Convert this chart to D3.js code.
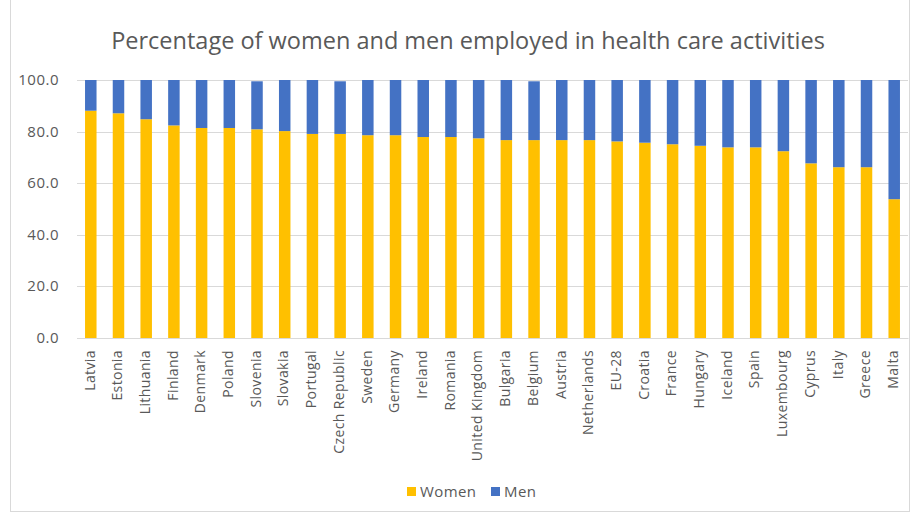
<!DOCTYPE html>
<html><head><meta charset="utf-8">
<script src="https://cdn.jsdelivr.net/npm/d3@7"></script>
<style>body{margin:0;background:#fff}svg{display:block}</style>
</head><body>
<script>
const categories = ["Latvia","Estonia","Lithuania","Finland","Denmark","Poland","Slovenia","Slovakia","Portugal","Czech Republic","Sweden","Germany","Ireland","Romania","United Kingdom","Bulgaria","Belgium","Austria","Netherlands","EU-28","Croatia","France","Hungary","Iceland","Spain","Luxembourg","Cyprus","Italy","Greece","Malta"];
const women = [88.1,87.1,84.8,82.4,81.4,81.4,80.9,80.2,79.1,79.1,78.6,78.6,77.9,77.9,77.4,76.7,76.7,76.7,76.7,76.2,75.7,75.1,74.5,73.9,73.9,72.4,67.7,66.2,66.2,53.8];
const men = [11.9,12.9,15.2,17.6,18.6,18.6,18.6,19.8,20.9,20.4,21.4,21.4,22.1,22.1,22.6,23.3,22.8,23.3,23.3,23.8,24.3,24.9,25.5,26.1,26.1,27.6,32.3,33.8,33.8,46.2];
const yTicks = [0,20,40,60,80,100];
const seriesNames = ["Women","Men"];
const colors = ["#FFC000","#4472C4"];

const W=912,H=515;
const svg=d3.select("body").append("svg").attr("width",W).attr("height",H);
const font="'Open Sans', 'Segoe UI', sans-serif";
svg.append("rect").attr("x",10.5).attr("y",-1).attr("width",899).attr("height",512.5).attr("fill","#fff").attr("stroke","#d9d9d9");

const x=d3.scaleBand().domain(categories).range([77,908]).paddingInner(0.585).paddingOuter(0.29);
const y=d3.scaleLinear().domain([0,100]).range([338,80]);

svg.append("text").attr("x",468).attr("y",49).attr("text-anchor","middle")
  .attr("font-family",font).attr("font-size",23.5).attr("fill","#595959")
  .text("Percentage of women and men employed in health care activities");

// grid
const g=svg.append("g");
g.selectAll("line.grid").data(yTicks).join("line")
  .attr("x1",77).attr("x2",908).attr("y1",d=>Math.round(y(d))+0.5).attr("y2",d=>Math.round(y(d))+0.5)
  .attr("stroke","#d9d9d9").attr("stroke-width",1);

// y axis labels
const ya=svg.append("g").attr("transform","translate(62,0)").call(d3.axisLeft(y).tickValues(yTicks).tickSize(0).tickFormat(d3.format(".1f")));
ya.select(".domain").remove();
ya.selectAll("text").attr("font-family",font).attr("font-size",15).attr("letter-spacing",0.5).attr("fill","#595959").attr("dx","0").attr("dy","0.3em");

const stack=d3.stack().keys([0,1]).value((d,k)=>k===0?d.w:d.m);
const rows=categories.map((c,i)=>({c,w:women[i],m:men[i]}));
const layers=stack(rows);
svg.selectAll("g.layer").data(layers).join("g").attr("fill",(d,i)=>colors[i])
  .selectAll("rect").data(d=>d).join("rect")
  .attr("x",d=>x(d.data.c)).attr("width",x.bandwidth())
  .attr("y",d=>y(d[1])).attr("height",d=>y(d[0])-y(d[1]));

// x axis
const xa=svg.append("g").attr("transform","translate(0,338)").call(d3.axisBottom(x).tickSize(0));
xa.select(".domain").attr("stroke","#d9d9d9");
xa.selectAll("text").attr("font-family",font).attr("font-size",14).attr("letter-spacing",0.4).attr("fill","#595959")
  .attr("transform","rotate(-90)").attr("text-anchor","end").attr("dx","-12").attr("dy","0").attr("x",0).attr("y",0)
  .style("dominant-baseline","middle");

// legend
const leg=svg.append("g");
const lx=[407,491];
seriesNames.forEach((n,i)=>{
  leg.append("rect").attr("x",lx[i]).attr("y",487).attr("width",9).attr("height",9).attr("fill",colors[i]);
  leg.append("text").attr("x",lx[i]+13).attr("y",497).attr("font-family",font).attr("font-size",15).attr("letter-spacing",0.4).attr("fill","#595959").text(n);
});
</script>
</body></html>
